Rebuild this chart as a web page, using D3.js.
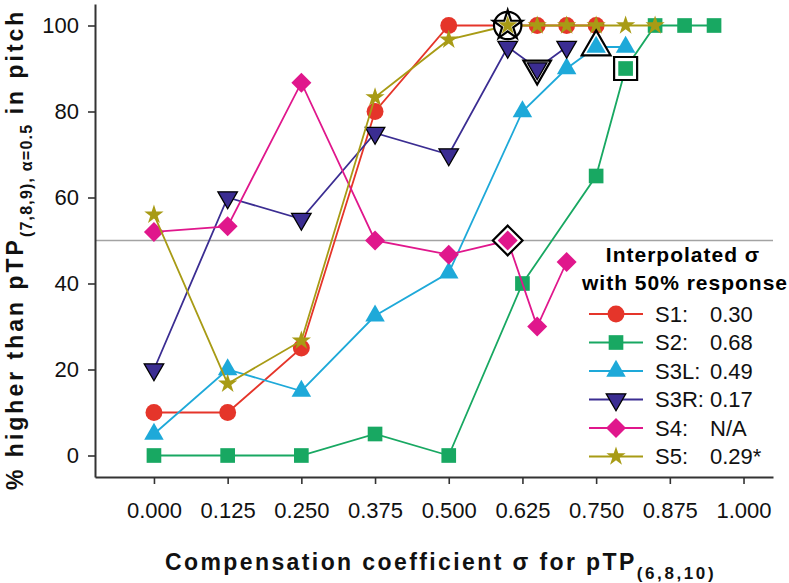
<!DOCTYPE html>
<html>
<head>
<meta charset="utf-8">
<script src="https://cdn.jsdelivr.net/npm/d3@7"></script>
<style>
  body { margin: 0; background: #fff; }
  svg { display: block; font-family: "Liberation Sans", Arial, sans-serif; }
</style>
</head>
<body>
<svg id="chart" width="789" height="583"></svg>
<script>
// data
var xS1 = [0, 0.125, 0.25, 0.375, 0.5, 0.6, 0.65, 0.7, 0.75];
var yS1 = [10, 10, 25, 80, 100, 100, 100, 100, 100];
var xS2 = [0, 0.125, 0.25, 0.375, 0.5, 0.625, 0.75, 0.8, 0.85, 0.9, 0.95];
var yS2 = [0, 0, 0, 5, 0, 40, 65, 90, 100, 100, 100];
var xS3L = [0, 0.125, 0.25, 0.375, 0.5, 0.625, 0.7, 0.75, 0.8];
var yS3L = [5, 20, 15, 32.5, 42.5, 80, 90, 95, 95];
var xS3R = [0, 0.125, 0.25, 0.375, 0.5, 0.6, 0.65, 0.7];
var yS3R = [20, 60, 55, 75, 70, 95, 90, 95];
var xS4 = [0, 0.125, 0.25, 0.375, 0.5, 0.6, 0.65, 0.7];
var yS4 = [52, 53.3, 86.7, 50, 46.7, 50, 30, 45];
var xS5 = [0, 0.125, 0.25, 0.375, 0.5, 0.6, 0.65, 0.7, 0.75, 0.8, 0.85];
var yS5 = [56, 16.7, 26.7, 83.3, 96.7, 100, 100, 100, 100, 100, 100];

var seriesNames = ["S1", "S2", "S3L", "S3R", "S4", "S5"];
var seriesValues = ["0.30", "0.68", "0.49", "0.17", "N/A", "0.29*"];
var xTicks = [0, 0.125, 0.25, 0.375, 0.5, 0.625, 0.75, 0.875, 1];
var yTicks = [0, 20, 40, 60, 80, 100];
var refLine = 50;

// highlighted points: series, index into that series, outline shapes
var highlights = [
  { s: "S4", i: 5, shapes: ["diamond"] },
  { s: "S3R", i: 6, shapes: ["down"] },
  { s: "S3L", i: 7, shapes: ["up"] },
  { s: "S2", i: 7, shapes: ["square"] },
  { s: "S5", i: 5, shapes: ["circle", "star"] }
];

var series = [
  { name: "S1", xs: xS1, ys: yS1, color: "#e5352a", shape: "circle", stroke: null },
  { name: "S2", xs: xS2, ys: yS2, color: "#18a862", shape: "square", stroke: null },
  { name: "S3L", xs: xS3L, ys: yS3L, color: "#1ea9d9", shape: "up", stroke: null },
  { name: "S3R", xs: xS3R, ys: yS3R, color: "#3b2d92", shape: "down", stroke: "#000" },
  { name: "S4", xs: xS4, ys: yS4, color: "#e0178c", shape: "diamond", stroke: null },
  { name: "S5", xs: xS5, ys: yS5, color: "#a89b15", shape: "star", stroke: null }
];

var svg = d3.select("#chart");
var x = d3.scaleLinear().domain([-0.1, 1.05]).range([95, 773]);
var y = d3.scaleLinear().domain([-5, 105]).range([477, 4]);

// marker shapes, normal size and outline size
var shapeDefs = {
  circle:  { type: d3.symbolCircle,   size: 225, big: 590, rot: 0 },
  square:  { type: d3.symbolSquare,   size: 215, big: 530, rot: 0 },
  up:      { type: d3.symbolTriangle, size: 165, big: 360, rot: 0 },
  down:    { type: d3.symbolTriangle, size: 165, big: 330, rot: 180 },
  diamond: { type: d3.symbolSquare,   size: 200, big: 440, rot: 45 },
  star:    { type: d3.symbolStar,     size: 115, big: 265, rot: 0 }
};

function drawMarker(g, shape, cx, cy, fill, stroke, big) {
  var def = shapeDefs[shape];
  var p = g.append("path")
    .attr("d", d3.symbol().type(def.type).size(big ? def.big : def.size)())
    .attr("transform", "translate(" + cx + "," + cy + ") rotate(" + def.rot + ")")
    .attr("fill", fill);
  if (stroke) p.attr("stroke", stroke).attr("stroke-width", big ? 2.2 : 1.3);
  return p;
}

// reference line at 50%
svg.append("line")
  .attr("x1", 95).attr("x2", 773)
  .attr("y1", y(refLine)).attr("y2", y(refLine))
  .attr("stroke", "#a3a3a3").attr("stroke-width", 1.5);

// axes
var xAxis = svg.append("g")
  .attr("transform", "translate(0,477)")
  .call(d3.axisBottom(x).tickValues(xTicks).tickFormat(d3.format(".3f")).tickSize(7).tickPadding(18).tickSizeOuter(0));
var yAxis = svg.append("g")
  .attr("transform", "translate(95,0)")
  .call(d3.axisLeft(y).tickValues(yTicks).tickSize(7).tickPadding(9).tickSizeOuter(0));
[xAxis, yAxis].forEach(function(a) {
  a.select(".domain").attr("stroke", "#333").attr("stroke-width", 2);
  a.selectAll(".tick line").attr("stroke", "#333").attr("stroke-width", 1.6);
  a.selectAll(".tick text").attr("font-size", 22).attr("fill", "#111")
    .attr("font-family", "'Liberation Sans', Arial, sans-serif");
});

// series lines and markers
var line = d3.line().x(function(d) { return x(d[0]); }).y(function(d) { return y(d[1]); });
var plot = svg.append("g");
series.forEach(function(s) {
  var pts = s.xs.map(function(v, i) { return [v, s.ys[i]]; });
  plot.append("path")
    .attr("d", line(pts))
    .attr("fill", "none")
    .attr("stroke", s.color)
    .attr("stroke-width", 1.8);
  pts.forEach(function(p) {
    drawMarker(plot, s.shape, x(p[0]), y(p[1]), s.color, s.stroke, false);
  });
});

// highlighted points: black outline, white inside, marker again on top
var hl = svg.append("g");
highlights.forEach(function(h) {
  var s = series.filter(function(d) { return d.name === h.s; })[0];
  var cx = x(s.xs[h.i]), cy = y(s.ys[h.i]);
  h.shapes.forEach(function(sh) {
    drawMarker(hl, sh, cx, cy, "#fff", "#000", true);
  });
  drawMarker(hl, s.shape, cx, cy, s.color, s.stroke, false);
});

// legend
var leg = svg.append("g");
leg.append("text").attr("x", 683).attr("y", 262).attr("text-anchor", "middle")
  .attr("font-size", 21).attr("font-weight", "bold").attr("letter-spacing", 1)
  .text("Interpolated σ");
leg.append("text").attr("x", 685).attr("y", 290).attr("text-anchor", "middle")
  .attr("font-size", 21).attr("font-weight", "bold").attr("letter-spacing", 1)
  .text("with 50% response");
series.forEach(function(s, i) {
  var ly = 314 + i * 28.5;
  leg.append("line").attr("x1", 589).attr("x2", 643).attr("y1", ly).attr("y2", ly)
    .attr("stroke", s.color).attr("stroke-width", 1.8);
  drawMarker(leg, s.shape, 616, ly, s.color, s.stroke, false);
  leg.append("text").attr("x", 655).attr("y", ly).attr("dy", "0.36em")
    .attr("font-size", 22).attr("fill", "#111").text(seriesNames[i] + ":");
  leg.append("text").attr("x", 710).attr("y", ly).attr("dy", "0.36em")
    .attr("font-size", 22).attr("fill", "#111").text(seriesValues[i]);
});

// x axis title
var xt = svg.append("text").attr("x", 165).attr("y", 570)
  .attr("font-size", 23).attr("font-weight", "bold").attr("letter-spacing", 2.4).attr("fill", "#111");
xt.append("tspan").text("Compensation coefficient σ for pTP");
xt.append("tspan").attr("dy", 9).attr("font-size", 17).attr("letter-spacing", 2.6).text("(6,8,10)");

// y axis title (rotated)
var yt = svg.append("text").attr("transform", "translate(23,490) rotate(-90)")
  .attr("x", 0).attr("y", 0)
  .attr("font-size", 23).attr("font-weight", "bold").attr("letter-spacing", 3).attr("fill", "#111");
yt.append("tspan").text("% higher than pTP");
yt.append("tspan").attr("dy", 9).attr("font-size", 16).attr("letter-spacing", 1.2).text("(7,8,9), α=0.5");
yt.append("tspan").attr("dy", -9).text(" in pitch");
</script>
</body>
</html>
